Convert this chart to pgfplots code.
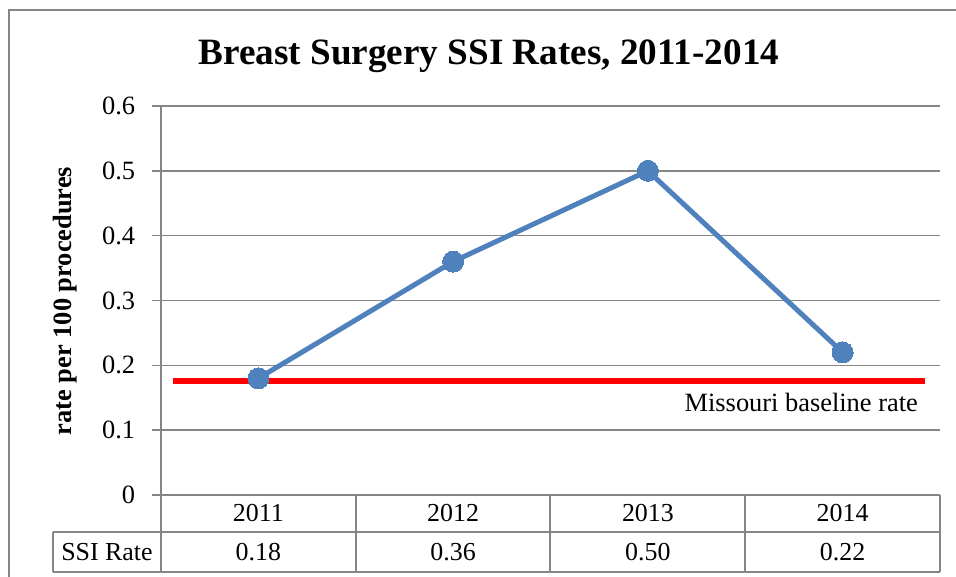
\documentclass[border=0pt]{standalone}
\usepackage{pgfplots}
\pgfplotsset{compat=1.18}
\usepackage{fontspec}
\setmainfont{Liberation Serif}

\definecolor{gridgray}{HTML}{868686}
\definecolor{serblue}{HTML}{4F81BD}

\begin{document}
\fontsize{26}{30}\selectfont
\begin{tikzpicture}[x=1bp,y=1bp]
\useasboundingbox (0,0) rectangle (956,577);
% outer chart frame (right and bottom edges fall outside the picture)
\draw[gridgray, line width=1.5bp] (9,-5) -- (9,567) -- (961,567);

\begin{axis}[
    at={(161bp,82bp)}, anchor=south west,
    scale only axis, width=779bp, height=389bp,
    xmin=-0.5, xmax=3.5, ymin=0, ymax=0.6,
    xtick=\empty,
    ytick={0,0.1,0.2,0.3,0.4,0.5,0.6},
    yticklabels={0,0.1,0.2,0.3,0.4,0.5,0.6},
    ymajorgrids,
    grid style={gridgray, line width=1.5bp},
    axis line style={draw=none},
    ytick pos=left, tick align=outside, major tick length=9bp,
    tick style={gridgray, line width=1.5bp},
    yticklabel style={font=\fontsize{26.5}{30}\selectfont, xshift=-8bp},
    clip=false,
]
% Missouri baseline rate
\addplot[red, line width=6bp] coordinates {(-0.438,0.176) (3.423,0.176)};
% SSI rate
\addplot[serblue, line width=5bp, mark=*, mark size=10.5bp,
    mark options={fill=serblue, draw=serblue, line width=0pt}]
    coordinates {(0,0.18) (1,0.36) (2,0.50) (3,0.22)};
\end{axis}

% y axis line, running down through the data table
\draw[gridgray, line width=1.5bp] (161,471) -- (161,5);
% data table
\begin{scope}[gridgray, line width=1.5bp]
\foreach \x in {356,550,745,940} \draw (\x,82) -- (\x,5);
\draw (53,45) -- (940,45);
\draw (53,5) -- (940,5);
\draw (53,45) -- (53,5);
\end{scope}
\foreach \x/\yr/\v in {258.4/2011/0.18, 453.1/2012/0.36, 647.9/2013/0.50, 842.6/2014/0.22} {
  \node at (\x,63.5) {\yr};
  \node at (\x,25) {\v};
}
\node at (107,25) {SSI Rate};

\node[anchor=base east, inner sep=0pt, font=\fontsize{26.5}{30}\selectfont] at (918,165) {Missouri baseline rate};
\node[rotate=90, font=\bfseries\fontsize{26.5}{30}\selectfont] at (65,276) {rate per 100 procedures};
\node[anchor=base, font=\bfseries\fontsize{37.3}{42}\selectfont] at (489,512) {Breast Surgery SSI Rates, 2011-2014};
\end{tikzpicture}
\end{document}
